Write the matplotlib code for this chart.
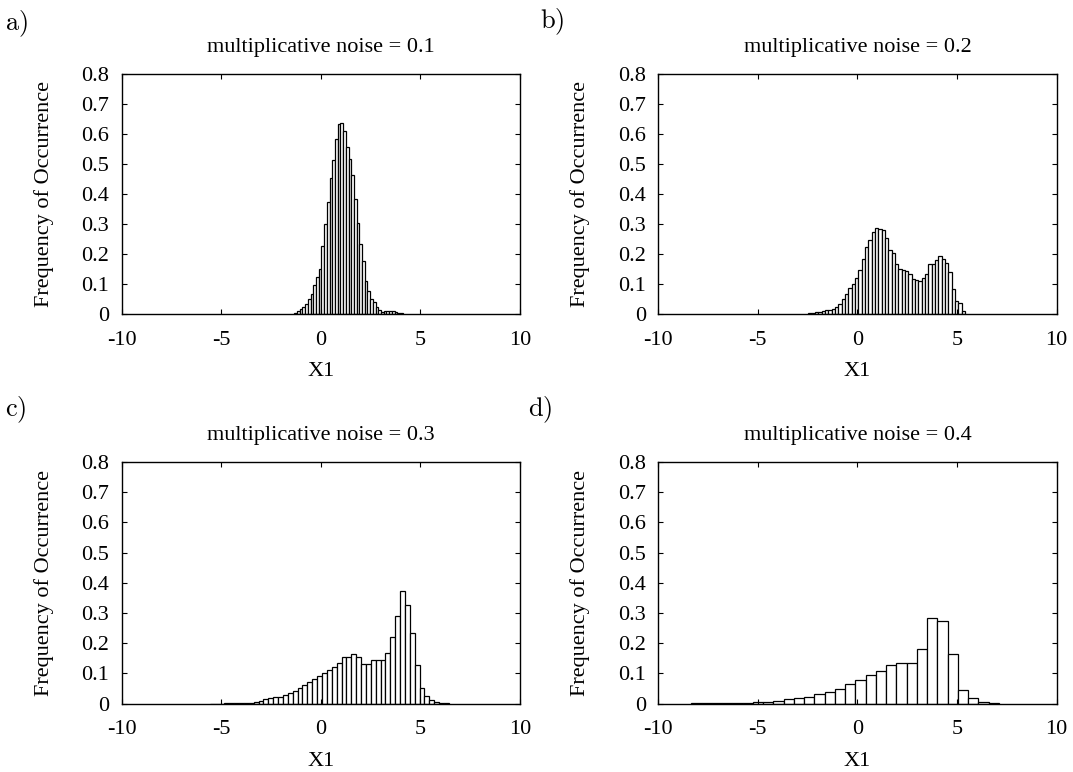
import matplotlib
matplotlib.use("Agg")
import matplotlib.pyplot as plt
import numpy as np

plt.rcParams["font.family"] = ["Liberation Serif", "DejaVu Serif"]
plt.rcParams["mathtext.fontset"] = "cm"

# Normalised histograms of X1 for four levels of multiplicative noise
noise_levels = [0.1, 0.2, 0.3, 0.4]
panel_tags = ["a)", "b)", "c)", "d)"]

# (first bin left edge, bin width) for each histogram
bins_a = (-1.33, 0.136)
bins_b = (-2.47, 0.1675)
bins_c = (-5.5775, 0.245)
bins_d = (-8.345, 0.515)

freq_a = [0.005, 0.011, 0.017, 0.024, 0.035, 0.050, 0.068, 0.097, 0.125, 0.150,
          0.226, 0.300, 0.375, 0.455, 0.515, 0.585, 0.632, 0.638, 0.610, 0.557,
          0.518, 0.465, 0.384, 0.303, 0.232, 0.177, 0.110, 0.077, 0.050, 0.039,
          0.024, 0.013, 0.008, 0.010, 0.010, 0.009, 0.010, 0.008, 0.003, 0.002]

freq_b = [0.002, 0.004, 0.007, 0.008, 0.011, 0.014, 0.015, 0.018, 0.024, 0.035,
          0.049, 0.067, 0.086, 0.099, 0.121, 0.147, 0.182, 0.224, 0.246, 0.274,
          0.287, 0.285, 0.281, 0.252, 0.213, 0.204, 0.166, 0.149, 0.147, 0.145,
          0.132, 0.118, 0.114, 0.110, 0.121, 0.132, 0.168, 0.168, 0.179, 0.192,
          0.185, 0.171, 0.139, 0.082, 0.044, 0.036, 0.011]

freq_c = [0.0003, 0.0004, 0.0005, 0.0007, 0.0009, 0.0012, 0.0016,
          0.002, 0.003, 0.006, 0.010, 0.014, 0.018, 0.021, 0.023, 0.030, 0.036,
          0.043, 0.052, 0.061, 0.073, 0.083, 0.092, 0.103, 0.112, 0.123, 0.134,
          0.153, 0.154, 0.164, 0.154, 0.131, 0.133, 0.143, 0.145, 0.143, 0.167,
          0.220, 0.289, 0.372, 0.326, 0.233, 0.128, 0.053, 0.025, 0.011, 0.005,
          0.002, 0.001]

freq_d = [0.0008, 0.0012, 0.002, 0.002, 0.003, 0.003, 0.004, 0.007, 0.010, 0.014,
          0.018, 0.023, 0.031, 0.038, 0.049, 0.066, 0.080, 0.094, 0.107, 0.129,
          0.135, 0.136, 0.181, 0.285, 0.275, 0.166, 0.046, 0.018, 0.007, 0.002]

x_ticks = [-10, -5, 0, 5, 10]
y_ticks = [0, 0.1, 0.2, 0.3, 0.4, 0.5, 0.6, 0.7, 0.8]
y_tick_labels = ["0", "0.1", "0.2", "0.3", "0.4", "0.5", "0.6", "0.7", "0.8"]

W, H = 1073, 772
fig = plt.figure(figsize=(W / 100, H / 100), dpi=100)

# axes boxes in pixels: (left, top, right, bottom)
boxes = [(121.7, 74, 520, 314), (658.3, 74, 1056.5, 314),
         (121.7, 462, 520, 703.7), (658.3, 462, 1056.5, 703.7)]
tag_pos = [(5, 24), (540, 22), (5, 410), (528, 410)]

hists = [(bins_a, freq_a), (bins_b, freq_b), (bins_c, freq_c), (bins_d, freq_d)]
FS = 16

for i, ((x0, w), freq) in enumerate(hists):
    l, t, r, b = boxes[i]
    ax = fig.add_axes([l / W, 1 - b / H, (r - l) / W, (b - t) / H])
    freq = np.asarray(freq)
    lefts = x0 + w * np.arange(len(freq))
    ax.bar(lefts, freq, width=w, align="edge", facecolor="white",
           edgecolor="black", linewidth=0.9)
    ax.set_xlim(-10, 10)
    ax.set_ylim(0, 0.8)
    ax.set_xticks(x_ticks)
    ax.set_xticklabels([str(v) for v in x_ticks])
    ax.set_yticks(y_ticks)
    ax.set_yticklabels(y_tick_labels)
    ax.tick_params(direction="in", top=True, right=True, length=3.5,
                   width=0.8, labelsize=FS)
    ax.tick_params(axis="x", pad=12)
    ax.tick_params(axis="y", pad=9)
    for s in ax.spines.values():
        s.set_linewidth(1.0)
    ax.set_xlabel("X1", fontsize=FS, labelpad=9)
    ax.set_ylabel("Frequency of Occurrence", fontsize=FS, labelpad=20)
    ax.set_title(f"multiplicative noise = {noise_levels[i]}", fontsize=FS, pad=16)
    tx, ty = tag_pos[i]
    fig.text(tx / W, 1 - ty / H, r"$\mathrm{" + panel_tags[i] + "}$",
             fontsize=19, ha="left", va="center")

fig.savefig("out.png", dpi=100)
